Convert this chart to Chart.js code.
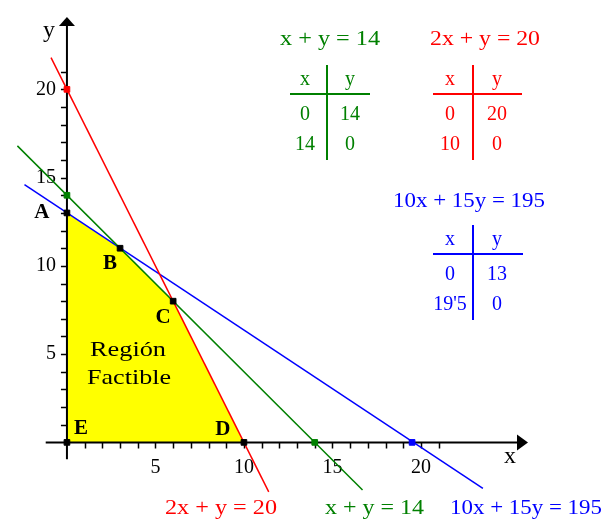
<!DOCTYPE html>
<html>
<head>
<meta charset="utf-8">
<script src="https://cdn.jsdelivr.net/npm/chart.js@4.4.1/dist/chart.umd.min.js"></script>
<style>
  html, body { margin: 0; padding: 0; background: #fff; }
  #wrap { width: 604px; height: 521px; position: relative; }
</style>
</head>
<body>
<div id="wrap"><canvas id="chart"></canvas></div>
<script>
// Vertices of the feasible region
const vertexNames = ['E', 'A', 'B', 'C', 'D'];
const vertexX = [0, 0, 3, 6, 10];
const vertexY = [0, 13, 11, 8, 0];

// Constraint lines (drawn segment ends)
const redLineX = [-0.9, 11.4];
const redLineY = [21.8, -2.8];
const greenLineX = [-2.8, 16.7];
const greenLineY = [16.8, -2.7];
const blueLineX = [-2.4, 23.5];
const blueLineY = [14.6, -2.6];

// Axis intercepts of the lines
const interceptX = [0, 0, 14, 19.5];
const interceptY = [20, 14, 0, 0];

// Axis ticks
const xTickLabels = [5, 10, 15, 20];
const yTickLabels = [5, 10, 15, 20];
const minorTicks = [1, 2, 3, 4, 5, 6, 7, 8, 9, 10, 11, 12, 13, 14, 15, 16, 17, 18, 19, 20, 21];

// Equations and their value tables
const equations = ['x + y = 14', '2x + y = 20', '10x + 15y = 195'];
const tableX = [['0', '14'], ['0', '10'], ['0', "19'5"]];
const tableY = [['14', '0'], ['20', '0'], ['13', '0']];

const RED = '#ff0000';
const GREEN = '#008000';
const BLUE = '#0000ff';

const toPoints = (xs, ys) => xs.map((x, i) => ({ x: x, y: ys[i] }));

// Draws text stretched to a given width
const fitText = (ctx, text, left, baseline, width) => {
    const w = ctx.measureText(text).width;
    ctx.save();
    ctx.translate(left, baseline);
    ctx.scale(width / w, 1);
    ctx.textAlign = 'left';
    ctx.textBaseline = 'alphabetic';
    ctx.fillText(text, 0, 0);
    ctx.restore();
};

// Axes with arrows are drawn right after the yellow region
const axesPlugin = {
    id: 'axes',
    afterDatasetDraw(chart, args) {
        if (args.index !== 0) return;
        const ctx = chart.ctx;
        const xs = chart.scales.x, ys = chart.scales.y;
        const x0 = xs.getPixelForValue(0), y0 = ys.getPixelForValue(0);
        ctx.save();
        ctx.strokeStyle = '#000';
        ctx.fillStyle = '#000';
        ctx.lineWidth = 2;

        // x axis
        const xEnd = xs.getPixelForValue(26.05);
        ctx.beginPath();
        ctx.moveTo(xs.getPixelForValue(-1.2), y0);
        ctx.lineTo(xEnd - 8, y0);
        ctx.stroke();
        ctx.beginPath();
        ctx.moveTo(xEnd, y0);
        ctx.lineTo(xEnd - 11, y0 - 8);
        ctx.lineTo(xEnd - 11, y0 + 8);
        ctx.closePath();
        ctx.fill();

        // y axis
        const yEnd = ys.getPixelForValue(24.1);
        ctx.beginPath();
        ctx.moveTo(x0, ys.getPixelForValue(-0.95));
        ctx.lineTo(x0, yEnd + 8);
        ctx.stroke();
        ctx.beginPath();
        ctx.moveTo(x0, yEnd);
        ctx.lineTo(x0 - 8, yEnd + 9);
        ctx.lineTo(x0 + 8, yEnd + 9);
        ctx.closePath();
        ctx.fill();

        // tick marks
        ctx.lineWidth = 1.5;
        ctx.beginPath();
        minorTicks.forEach(t => {
            const px = Math.round(xs.getPixelForValue(t)) + 0.5;
            ctx.moveTo(px, y0);
            ctx.lineTo(px, y0 + 6);
            const py = Math.round(ys.getPixelForValue(t)) + 0.5;
            ctx.moveTo(x0, py);
            ctx.lineTo(x0 - 6, py);
        });
        ctx.stroke();

        // tick labels
        ctx.font = '20px "Liberation Serif", serif';
        ctx.textAlign = 'center';
        ctx.textBaseline = 'alphabetic';
        xTickLabels.forEach(t => ctx.fillText(String(t), xs.getPixelForValue(t), y0 + 31));
        ctx.textAlign = 'right';
        ctx.textBaseline = 'middle';
        yTickLabels.forEach(t => ctx.fillText(String(t), x0 - 11, ys.getPixelForValue(t)));

        // axis names
        ctx.font = '24px "Liberation Serif", serif';
        ctx.textAlign = 'center';
        ctx.textBaseline = 'alphabetic';
        ctx.fillText('x', 510, 463);
        ctx.fillText('y', 49, 37);
        ctx.restore();
    }
};

// Labels, equations and tables
const textPlugin = {
    id: 'texts',
    afterDraw(chart) {
        const ctx = chart.ctx;
        const xs = chart.scales.x, ys = chart.scales.y;
        ctx.save();

        // vertex names
        const offsets = { A: [-25, 0], B: [-10, 15], C: [-10, 16], D: [-21, -13], E: [14, -14] };
        ctx.font = 'bold 21px "Liberation Serif", serif';
        ctx.fillStyle = '#000';
        ctx.textAlign = 'center';
        ctx.textBaseline = 'middle';
        vertexNames.forEach((n, i) => {
            const o = offsets[n];
            ctx.fillText(n, xs.getPixelForValue(vertexX[i]) + o[0], ys.getPixelForValue(vertexY[i]) + o[1]);
        });

        ctx.font = '22px "Liberation Serif", serif';
        fitText(ctx, 'Región', 90, 356, 76);
        fitText(ctx, 'Factible', 87, 384, 84);

        // equations at the top
        ctx.font = '20px "Liberation Serif", serif';
        ctx.fillStyle = GREEN;
        fitText(ctx, equations[0], 280, 45, 100);
        ctx.fillStyle = RED;
        fitText(ctx, equations[1], 430, 45, 110);
        ctx.fillStyle = BLUE;
        fitText(ctx, equations[2], 393, 207, 152);

        // equations at the bottom
        ctx.fillStyle = RED;
        fitText(ctx, equations[1], 165, 514, 112);
        ctx.fillStyle = GREEN;
        fitText(ctx, equations[0], 325, 514, 99);
        ctx.fillStyle = BLUE;
        fitText(ctx, equations[2], 450, 514, 152);

        // value tables
        const tables = [
            { color: GREEN, vx: 327, top: 65, hy: 94, left: 290, right: 370, cx: 305, cy: 350, base: 85 },
            { color: RED, vx: 473, top: 65, hy: 94, left: 433, right: 522, cx: 450, cy: 497, base: 85 },
            { color: BLUE, vx: 473, top: 225, hy: 254, left: 433, right: 523, cx: 450, cy: 497, base: 245 }
        ];
        tables.forEach((t, k) => {
            ctx.strokeStyle = t.color;
            ctx.fillStyle = t.color;
            ctx.lineWidth = 2;
            ctx.beginPath();
            ctx.moveTo(t.vx, t.top);
            ctx.lineTo(t.vx, t.top + 95);
            ctx.moveTo(t.left, t.hy);
            ctx.lineTo(t.right, t.hy);
            ctx.stroke();
            ctx.textAlign = 'center';
            ctx.textBaseline = 'alphabetic';
            ctx.fillText('x', t.cx, t.base);
            ctx.fillText('y', t.cy, t.base);
            for (let r = 0; r < 2; r++) {
                ctx.fillText(tableX[k][r], t.cx, t.base + 35 + r * 30);
                ctx.fillText(tableY[k][r], t.cy, t.base + 35 + r * 30);
            }
        });
        ctx.restore();
    }
};

const lineDataset = (xs, ys, color) => ({
    data: toPoints(xs, ys),
    showLine: true,
    borderColor: color,
    borderWidth: 1.5,
    pointRadius: 0,
    fill: false,
    order: 5
});

new Chart(document.getElementById('chart').getContext('2d'), {
    type: 'scatter',
    data: {
        datasets: [
            {
                // feasible region
                data: toPoints(vertexX, vertexY),
                showLine: true,
                borderWidth: 0,
                borderColor: 'rgba(0,0,0,0)',
                backgroundColor: '#ffff00',
                fill: 'origin',
                pointRadius: 0,
                order: 10
            },
            lineDataset(redLineX, redLineY, RED),
            lineDataset(greenLineX, greenLineY, GREEN),
            lineDataset(blueLineX, blueLineY, BLUE),
            {
                data: toPoints(interceptX, interceptY),
                pointStyle: 'rect',
                pointRadius: 4,
                pointBorderWidth: 1,
                pointBorderColor: [RED, GREEN, GREEN, BLUE],
                pointBackgroundColor: [RED, GREEN, GREEN, BLUE],
                order: 2
            },
            {
                data: toPoints(vertexX, vertexY),
                pointStyle: 'rect',
                pointRadius: 4,
                pointBorderWidth: 1,
                pointBorderColor: '#000',
                pointBackgroundColor: '#000',
                order: 1
            }
        ]
    },
    options: {
        responsive: true,
        maintainAspectRatio: false,
        animation: false,
        layout: { padding: 0 },
        plugins: {
            legend: { display: false },
            tooltip: { enabled: false }
        },
        scales: {
            x: { type: 'linear', min: -3.5, max: 30.06, display: false },
            y: { type: 'linear', min: -4.17, max: 24.78, display: false }
        }
    },
    plugins: [axesPlugin, textPlugin]
});
</script>
</body>
</html>
